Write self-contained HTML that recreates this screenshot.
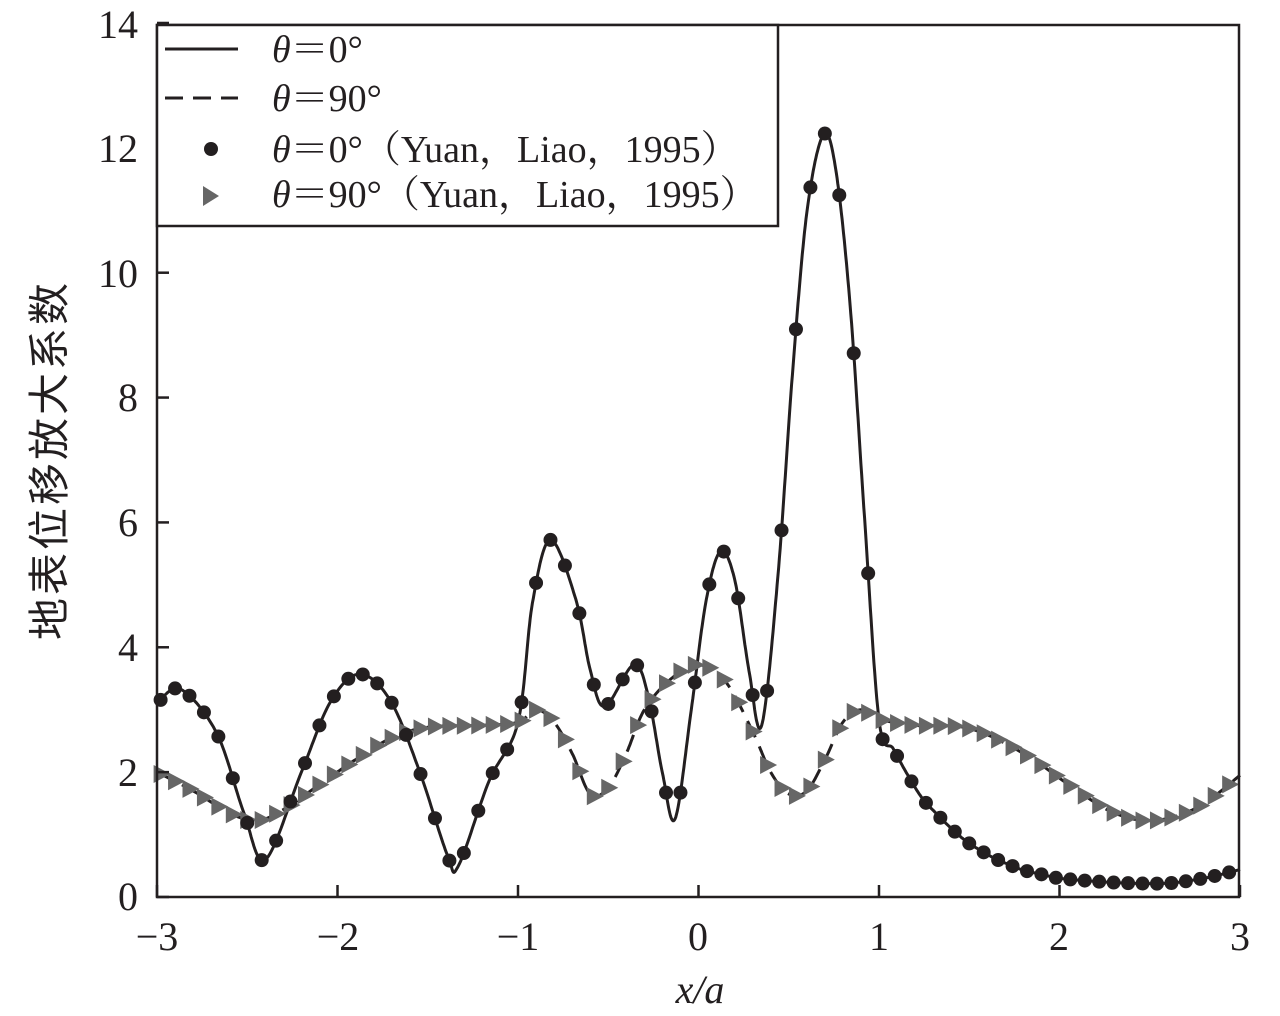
<!DOCTYPE html>
<html><head><meta charset="utf-8"><style>
html,body{margin:0;padding:0;background:#fff;width:1280px;height:1016px;overflow:hidden}
svg{display:block}
text{font-family:"Liberation Serif","Noto Serif CJK SC",serif;fill:#231f20}
</style></head><body>
<svg id="s" width="1280" height="1016" viewBox="0 0 1280 1016" xmlns="http://www.w3.org/2000/svg">
<g id="data"></g>
<rect x="157" y="25" width="1082" height="872" fill="none" stroke="#231f20" stroke-width="2.5"/>
<g id="ticks" stroke="#231f20" stroke-width="2.5"></g>
<g font-size="40" text-anchor="end">
<text x="138" y="910">0</text><text x="138" y="786">2</text><text x="138" y="661">4</text>
<text x="138" y="536">6</text><text x="138" y="411">8</text><text x="138" y="287">10</text>
<text x="138" y="162">12</text><text x="138" y="38">14</text>
</g>
<g font-size="40" text-anchor="middle">
<text x="157" y="950">−3</text><text x="338" y="950">−2</text><text x="518" y="950">−1</text>
<text x="698" y="950">0</text><text x="879" y="950">1</text><text x="1059" y="950">2</text><text x="1240" y="950">3</text>
</g>
<text x="700" y="1003" font-size="40" text-anchor="middle" font-style="italic">x/a</text>
<text transform="translate(64,460) rotate(-90)" font-size="42" letter-spacing="3" text-anchor="middle" style="font-family:'Noto Sans CJK SC',sans-serif">地表位移放大系数</text>
<rect x="157" y="25" width="621" height="201" fill="#fff" stroke="#231f20" stroke-width="2.5"/>
<line x1="165" y1="49" x2="238" y2="49" stroke="#231f20" stroke-width="3"/>
<line x1="165" y1="98" x2="238" y2="98" stroke="#231f20" stroke-width="3" stroke-dasharray="18,10"/>
<circle cx="211" cy="149" r="7" fill="#231f20"/>
<path d="M203,186 L219,196 L203,206 Z" fill="#666"/>
<g font-size="38">
<text x="272" y="62"><tspan font-style="italic">θ</tspan>＝0°</text>
<text x="272" y="111"><tspan font-style="italic">θ</tspan>＝90°</text>
<text x="272" y="162"><tspan font-style="italic">θ</tspan>＝0°（Yuan，Liao，1995）</text>
<text x="272" y="207"><tspan font-style="italic">θ</tspan>＝90°（Yuan，Liao，1995）</text>
</g>
</svg>
<script>
const X=x=>157+(x+3)*180.5, Y=y=>897-y*62.43;
const NS="http://www.w3.org/2000/svg";
const g=document.getElementById('data'), tk=document.getElementById('ticks');
function el(t,a,p){const e=document.createElementNS(NS,t);for(const k in a)e.setAttribute(k,a[k]);(p||g).appendChild(e);return e;}
for(let i=-3;i<=3;i++){el('line',{x1:X(i),x2:X(i),y1:897,y2:885},tk);}
for(let j=0;j<=14;j+=2){el('line',{x1:157,x2:169,y1:Y(j),y2:Y(j)},tk);}
function spline(P){const out=[];for(let i=0;i<P.length-1;i++){const p0=P[Math.max(0,i-1)],p1=P[i],p2=P[i+1],p3=P[Math.min(P.length-1,i+2)];
for(let t=0;t<1;t+=0.05){const t2=t*t,t3=t2*t;const f=(a,b,c,d)=>0.5*((2*b)+(-a+c)*t+(2*a-5*b+4*c-d)*t2+(-a+3*b-3*c+d)*t3);
out.push([f(p0[0],p1[0],p2[0],p3[0]),f(p0[1],p1[1],p2[1],p3[1])]);}}out.push(P[P.length-1]);return out;}
function at(D,x){for(let i=0;i<D.length-1;i++){if(D[i][0]<=x&&D[i+1][0]>=x){const t=(x-D[i][0])/((D[i+1][0]-D[i][0])||1);return D[i][1]+t*(D[i+1][1]-D[i][1]);}}return D[D.length-1][1];}
const A=[[-3,3.1],[-2.87,3.33],[-2.67,2.63],[-2.52,1.36],[-2.40,0.6],[-2.2,2.0],[-2.04,3.12],[-1.88,3.57],[-1.71,3.16],[-1.55,2.05],[-1.39,0.66],[-1.33,0.5],[-1.16,1.86],[-1.0,2.8],[-0.92,4.71],[-0.82,5.72],[-0.68,4.77],[-0.60,3.64],[-0.52,3.05],[-0.36,3.72],[-0.28,3.24],[-0.20,1.99],[-0.13,1.25],[-0.04,3.0],[0.04,4.71],[0.12,5.53],[0.20,5.09],[0.28,3.62],[0.35,2.75],[0.44,5.14],[0.52,8.36],[0.60,10.96],[0.69,12.2],[0.76,11.66],[0.84,9.48],[0.92,6.07],[1.0,2.84],[1.08,2.37],[1.16,1.95],[1.24,1.58],[1.32,1.33],[1.4,1.1],[1.48,0.9],[1.56,0.75],[1.64,0.62],[1.72,0.52],[1.8,0.43],[1.92,0.35],[2.0,0.3],[2.2,0.25],[2.4,0.22],[2.6,0.22],[2.76,0.28],[2.88,0.35],[3,0.44]];
const B=[[-3,2.0],[-2.8,1.7],[-2.6,1.35],[-2.45,1.22],[-2.3,1.4],[-2.1,1.8],[-1.9,2.2],[-1.7,2.55],[-1.5,2.72],[-1.2,2.75],[-1.0,2.8],[-0.9,3.0],[-0.8,2.8],[-0.7,2.3],[-0.6,1.65],[-0.5,1.75],[-0.4,2.3],[-0.3,3.0],[-0.15,3.5],[0,3.72],[0.15,3.45],[0.3,2.65],[0.4,2.0],[0.5,1.65],[0.6,1.7],[0.7,2.2],[0.8,2.8],[0.9,3.0],[1.0,2.85],[1.2,2.75],[1.5,2.7],[1.8,2.3],[2.1,1.7],[2.3,1.35],[2.5,1.22],[2.7,1.35],[2.85,1.6],[3,1.95]];
const DA=spline(A),DB=spline(B);
const path=D=>D.map((p,i)=>(i?'L':'M')+X(p[0]).toFixed(1)+','+Y(p[1]).toFixed(1)).join('');
el('path',{d:path(DB),fill:'none',stroke:'#231f20','stroke-width':3,'stroke-dasharray':'18,10'});
el('path',{d:path(DA),fill:'none',stroke:'#231f20','stroke-width':3});
for(let x=-2.98;x<=3.0;x+=0.08){const px=X(x),py=Y(at(DB,x));el('path',{d:`M${px-7},${py-9}L${px+10},${py}L${px-7},${py+9}Z`,fill:'#666'});}
for(let x=-2.98;x<=3.0;x+=0.08){el('circle',{cx:X(x),cy:Y(at(DA,x)),r:7,fill:'#231f20'});}
</script>
</body></html>
